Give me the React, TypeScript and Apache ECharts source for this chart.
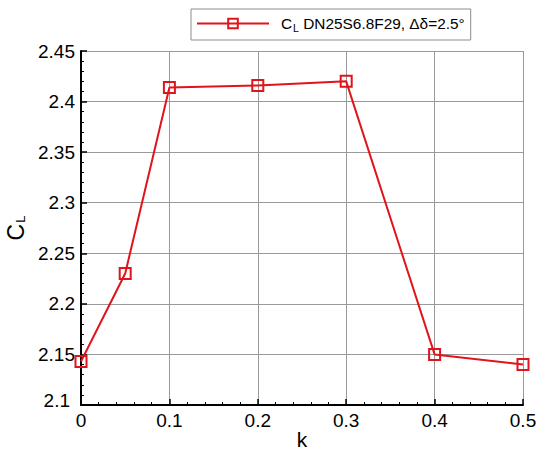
import React, { useEffect, useRef } from "react";
import * as echarts from "echarts";

// Reduced frequency k and lift coefficient C_L
const kValues = [0, 0.05, 0.1, 0.2, 0.3, 0.4, 0.5];
const clValues = [2.143, 2.23, 2.414, 2.416, 2.42, 2.15, 2.14];

const seriesName = "CL DN25S6.8F29";
const RED = "#e0141b";
const FONT = "'Liberation Sans', Arial, sans-serif";

export default function App() {
  const ref = useRef<HTMLDivElement>(null);

  useEffect(() => {
    if (!ref.current) return;
    const chart = echarts.init(ref.current, null, { renderer: "svg" });
    chart.setOption({
      animation: false,
      backgroundColor: "#ffffff",
      textStyle: { fontFamily: FONT },
      grid: { left: 81, right: 16, top: 51, bottom: 45, containLabel: false, outerBoundsMode: "none" },
      legend: {
        left: 191,
        top: 9,
        orient: "horizontal",
        padding: [7, 6, 7, 5],
        borderColor: "#8c8c8c",
        borderWidth: 1,
        itemWidth: 72,
        itemHeight: 12,
        data: [seriesName],
        formatter: () => "{c|C}{l|L}{t| DN25S6.8F29, \u0394\u03b4=2.5\u00b0}",
        textStyle: {
          color: "#000",
          fontFamily: FONT,
          rich: {
            c: { fontSize: 15.4, color: "#000", fontFamily: FONT, padding: [0, 0, 0, 7] },
            l: { fontSize: 10.5, color: "#000", fontFamily: FONT, verticalAlign: "bottom", padding: [8, 0, 0, 1] },
            t: { fontSize: 15.4, color: "#000", fontFamily: FONT },
          },
        },
      },
      xAxis: {
        type: "value",
        min: 0,
        max: 0.5,
        interval: 0.1,
        name: "k",
        nameLocation: "middle",
        nameGap: 24,
        nameMoveOverlap: false,
        nameTextStyle: { fontSize: 21, color: "#000", fontFamily: FONT, verticalAlign: "top" },
        axisLine: { show: true, onZero: false, lineStyle: { color: "#000", width: 2 } },
        axisTick: { show: true, inside: true, length: 6, lineStyle: { color: "#000", width: 1.5 } },
        minorTick: { show: true, splitNumber: 5, length: 3, lineStyle: { color: "#000", width: 1 } },
        axisLabel: {
          fontSize: 19,
          color: "#000",
          fontFamily: FONT,
          margin: 6,
          formatter: (v: number) => String(Number(v.toFixed(2))),
        },
        splitLine: { show: true, lineStyle: { color: "#9a9a9a", width: 1 } },
      },
      yAxis: {
        type: "value",
        min: 2.1,
        max: 2.45,
        interval: 0.05,
        name: "{c|C}{l|L}",
        nameLocation: "middle",
        nameRotate: 90,
        nameGap: 54,
        nameMoveOverlap: false,
        nameTextStyle: {
          fontFamily: FONT,
          rich: {
            c: { fontSize: 23, color: "#000", fontFamily: FONT },
            l: { fontSize: 13, color: "#000", fontFamily: FONT, verticalAlign: "bottom", padding: [10, 0, 0, 1] },
          },
        },
        axisLine: { show: true, onZero: false, lineStyle: { color: "#000", width: 2 } },
        axisTick: { show: true, inside: true, length: 6, lineStyle: { color: "#000", width: 1.5 } },
        minorTick: { show: true, splitNumber: 5, length: 3, lineStyle: { color: "#000", width: 1 } },
        axisLabel: {
          fontSize: 19,
          color: "#000",
          fontFamily: FONT,
          margin: 6,
          formatter: (v: number) => {
            const s = String(Number(v.toFixed(2)));
            return Math.abs(v - 2.1) < 1e-9 ? "{low|" + s + "}" : s;
          },
          rich: {
            low: { fontSize: 19, color: "#000", fontFamily: FONT, padding: [0, 5, 10, 0] },
          },
        },
        splitLine: { show: true, lineStyle: { color: "#9a9a9a", width: 1 } },
      },
      series: [
        {
          name: seriesName,
          type: "line",
          data: kValues.map((k, i) => [k, clValues[i]]),
          symbol: "rect",
          symbolSize: 11,
          showAllSymbol: true,
          clip: false,
          lineStyle: { color: RED, width: 2 },
          itemStyle: { color: "rgba(255,255,255,0)", borderColor: RED, borderWidth: 2 },
          emphasis: { disabled: true },
          z: 5,
        },
      ],
    });
    return () => chart.dispose();
  }, []);

  return (
    <div
      ref={ref}
      style={{ position: "absolute", left: 0, top: 0, width: 539, height: 450 }}
    />
  );
}
